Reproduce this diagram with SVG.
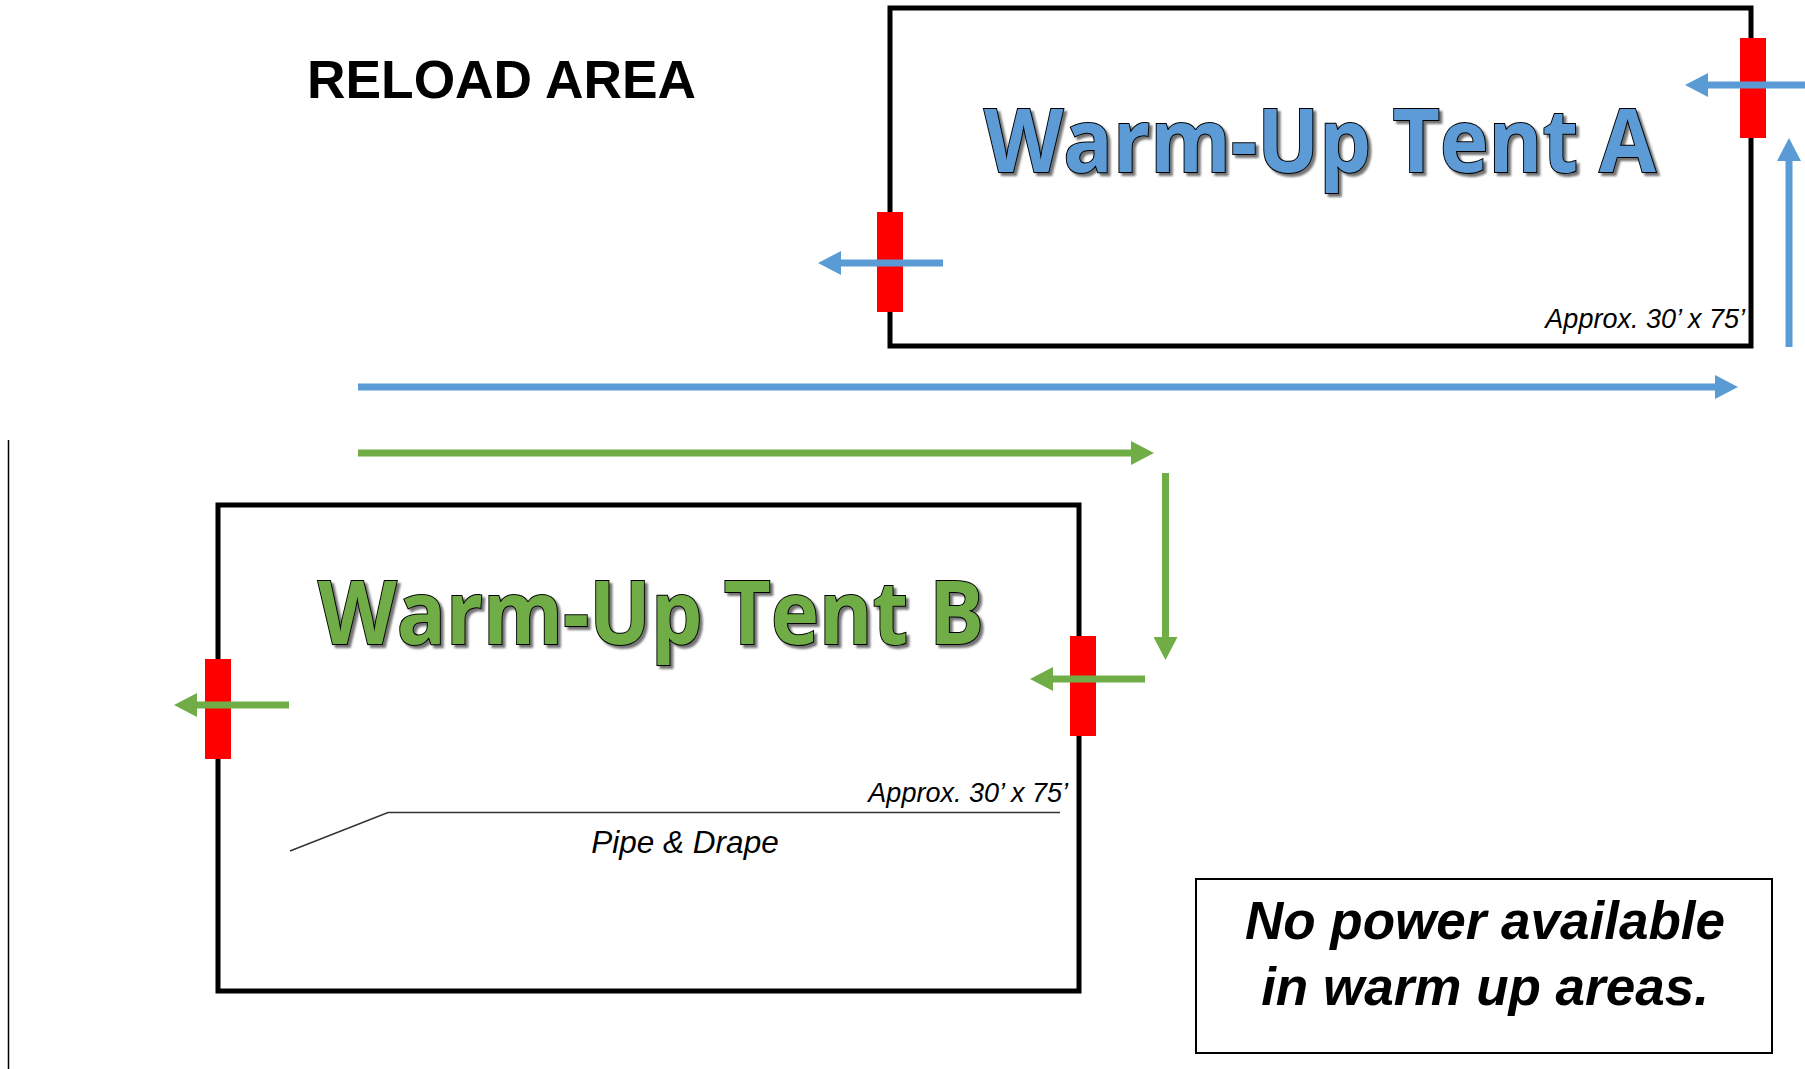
<svg xmlns="http://www.w3.org/2000/svg" width="1805" height="1069" viewBox="0 0 1805 1069">
<style>
.tent{fill:none;stroke:#000;stroke-width:5}
.door{fill:#FF0000}
.title{font-family:"Open Sans","Liberation Sans",sans-serif;font-weight:700;font-size:87px;stroke:#000;stroke-width:2;paint-order:stroke fill;filter:url(#sh)}
.approx{font-family:"Liberation Sans",Arial,sans-serif;font-style:italic;font-size:27px;fill:#000}
.blue{stroke:#5B9BD5;stroke-width:7;fill:none;marker-end:url(#hb)}
.green{stroke:#70AD47;stroke-width:7;fill:none;marker-end:url(#hg)}
</style>
<defs>
<filter id="sh" x="-5%" y="-10%" width="110%" height="130%">
<feDropShadow dx="3" dy="3" stdDeviation="1" flood-color="#000" flood-opacity="0.55"/>
</filter>
<marker id="hb" markerUnits="userSpaceOnUse" markerWidth="23" markerHeight="24" refX="0" refY="12" orient="auto"><path d="M0,0 L23,12 L0,24 Z" fill="#5B9BD5"/></marker>
<marker id="hg" markerUnits="userSpaceOnUse" markerWidth="23" markerHeight="24" refX="0" refY="12" orient="auto"><path d="M0,0 L23,12 L0,24 Z" fill="#70AD47"/></marker>
</defs>
<rect width="1805" height="1069" fill="#fff"/>
<g id="reload-area">
<text x="307" y="98" font-family="'Liberation Sans',Arial,sans-serif" font-weight="700" font-size="53" textLength="389" lengthAdjust="spacingAndGlyphs">RELOAD AREA</text>
</g>
<line id="left-edge" x1="8.5" y1="440" x2="8.5" y2="1069" stroke="#000" stroke-width="1.5"/>
<g id="tent-a">
<rect class="tent" x="890" y="8" width="861" height="338"/>
<rect class="door" x="1740" y="38" width="26" height="100"/>
<rect class="door" x="877" y="212" width="26" height="100"/>
<text class="title" x="984" y="172" fill="#5B9BD5" textLength="672" lengthAdjust="spacingAndGlyphs">Warm-Up Tent A</text>
<text class="approx" x="1745" y="328" text-anchor="end">Approx. 30’ x 75’</text>
</g>
<g id="tent-b">
<rect class="tent" x="218" y="505" width="861" height="486"/>
<rect class="door" x="1070" y="636" width="26" height="100"/>
<rect class="door" x="205" y="659" width="26" height="100"/>
<text class="title" x="318" y="644" fill="#70AD47" textLength="666" lengthAdjust="spacingAndGlyphs">Warm-Up Tent B</text>
<text class="approx" x="1068" y="802" text-anchor="end">Approx. 30’ x 75’</text>
</g>
<g id="pipe-drape">
<polyline points="290,851 388,812.5 1060,812.5" fill="none" stroke="#333" stroke-width="1.5"/>
<text x="685" y="853" text-anchor="middle" font-family="'Liberation Sans',Arial,sans-serif" font-style="italic" font-size="31.5">Pipe &amp; Drape</text>
</g>
<g id="note">
<rect x="1196" y="879" width="576" height="174" fill="#fff" stroke="#000" stroke-width="2"/>
<text x="1485" y="939" text-anchor="middle" font-family="'Liberation Sans',Arial,sans-serif" font-weight="700" font-style="italic" font-size="53">No power available</text>
<text x="1485" y="1005" text-anchor="middle" font-family="'Liberation Sans',Arial,sans-serif" font-weight="700" font-style="italic" font-size="53">in warm up areas.</text>
</g>
<g id="connectors">
<line class="blue" x1="1810" y1="85" x2="1708" y2="85"/>
<line class="blue" x1="1789" y1="347" x2="1789" y2="161"/>
<line class="blue" x1="943" y1="263" x2="841" y2="263"/>
<line class="blue" x1="358" y1="387" x2="1715" y2="387"/>
<line class="green" x1="358" y1="453" x2="1131" y2="453"/>
<line class="green" x1="1165.5" y1="473" x2="1165.5" y2="637"/>
<line class="green" x1="1145" y1="679" x2="1053" y2="679"/>
<line class="green" x1="289" y1="705" x2="197" y2="705"/>
</g>
</svg>
